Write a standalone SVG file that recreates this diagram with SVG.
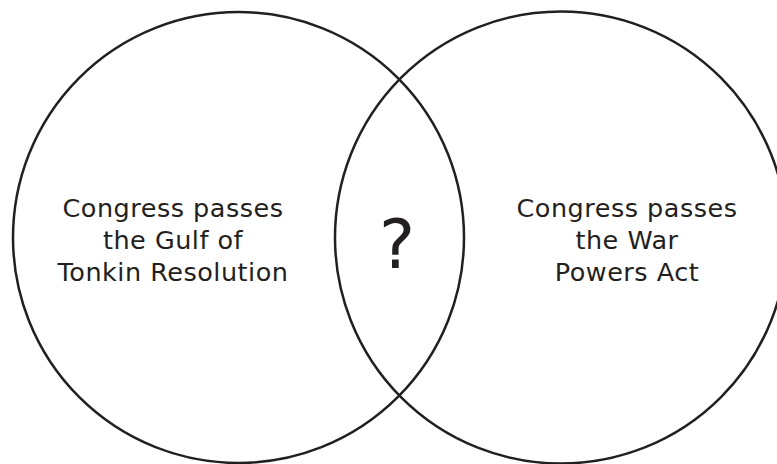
<svg xmlns="http://www.w3.org/2000/svg" width="777" height="464" viewBox="0 0 777 464">
<style>
.c{fill:none;stroke:#231f20;stroke-width:2.5}
.t{font-family:"DejaVu Sans",Verdana,sans-serif;font-size:25.5px;letter-spacing:0.5px;fill:#231f20;text-anchor:middle}
.q{font-family:"DejaVu Sans",Verdana,sans-serif;font-size:68px;fill:#231f20;text-anchor:middle}
</style>
<rect width="777" height="464" fill="#fff"/>
<g id="left">
<circle class="c" cx="238.5" cy="237.5" r="225.5"/>
<text class="t" x="173" y="217">Congress passes</text>
<text class="t" x="173" y="249">the Gulf of</text>
<text class="t" x="173" y="281">Tonkin Resolution</text>
</g>
<g id="right">
<circle class="c" cx="561" cy="237.5" r="226"/>
<text class="t" x="627" y="217">Congress passes</text>
<text class="t" x="627" y="249">the War</text>
<text class="t" x="627" y="281">Powers Act</text>
</g>
<g id="overlap">
<text class="q" x="397" y="268">?</text>
</g>
<g id="connectors"/>
</svg>
